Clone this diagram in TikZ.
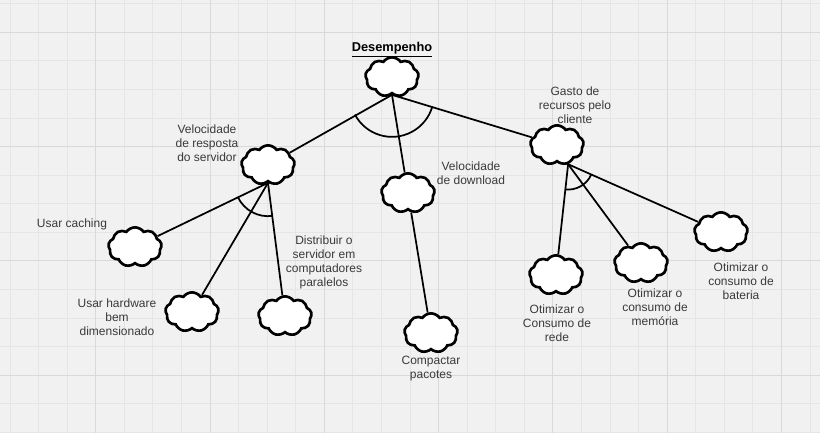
\documentclass[tikz,border=0pt]{standalone}
\usepackage{fontspec}
\setmainfont{Liberation Sans}
\usetikzlibrary{shapes.symbols}
\definecolor{PaperGray}{HTML}{F1F1F1}
\definecolor{GridMinor}{HTML}{E5E5E5}
\definecolor{GridMajor}{HTML}{D9D9D9}
\definecolor{LabelGray}{HTML}{3A3A3A}

\tikzset{
  goal/.style={cloud, cloud puffs=9, cloud puff arc=110, aspect=1.35,
    draw=black, line width=2pt, fill=white,
    minimum width=40pt, minimum height=29.5pt, inner sep=0pt},
  lbl/.style={text=LabelGray, align=center, font=\fontsize{9}{10.5}\selectfont},
  link/.style={line width=1.3pt, black},
}

\begin{document}
\begin{tikzpicture}[x=.75pt,y=-.75pt]
  % paper and grid
  \fill[PaperGray] (0,0) rectangle (820,433);
  \useasboundingbox (0,0) rectangle (820,433);
  \foreach \i in {0,...,28}
    \draw[GridMinor,line width=.6pt] ({10+28.57*\i},0) -- ({10+28.57*\i},433);
  \foreach \j in {0,...,15}
    \draw[GridMinor,line width=.6pt] (0,{3.7+28.57*\j}) -- (820,{3.7+28.57*\j});
  \foreach \i in {3,7,...,27}
    \draw[GridMajor,line width=.7pt] ({10+28.57*\i},0) -- ({10+28.57*\i},433);
  \foreach \j in {1,5,...,13}
    \draw[GridMajor,line width=.7pt] (0,{3.7+28.57*\j}) -- (820,{3.7+28.57*\j});

  % goals
  \node[goal] (des) at (392,77) {};
  \node[goal] (vrs) at (268,165) {};
  \node[goal] (dl) at (408,193) {};
  \node[goal] (gas) at (557,145) {};
  \node[goal] (uc) at (135,247) {};
  \node[goal] (uh) at (192,312) {};
  \node[goal] (ds) at (285,316) {};
  \node[goal] (cp) at (431,333) {};
  \node[goal] (rede) at (556,275) {};
  \node[goal] (mem) at (641,263) {};
  \node[goal] (bat) at (721,232) {};

  % labels
  \node[text=black,font=\fontsize{9.6}{11}\selectfont] (desL) at (392,50) {\underline{\textbf{Desempenho}}};
  \node[lbl] (vrsL) at (207,143) {Velocidade\\de resposta\\do servidor};
  \node[lbl] (dlL) at (471,173) {Velocidade\\de download};
  \node[lbl] (gasL) at (575,105) {Gasto de\\recursos pelo\\cliente};
  \node[lbl] (ucL) at (72,224) {Usar caching};
  \node[lbl] (uhL) at (117,317) {Usar hardware\\bem\\dimensionado};
  \node[lbl] (dsL) at (324,262) {Distribuir o\\servidor em\\computadores\\paralelos};
  \node[lbl] (cpL) at (431,369) {Compactar\\pacotes};
  \node[lbl] (redeL) at (557,323) {Otimizar o\\Consumo de\\rede};
  \node[lbl] (memL) at (655,307) {Otimizar o\\consumo de\\memória};
  \node[lbl] (batL) at (741,281) {Otimizar o\\consumo de\\bateria};

  % decomposition links
  \draw[link] (des.south) -- (vrs);
  \draw[link] (des.south) -- (dl);
  \draw[link] (des.south) -- (gas);
  \draw[link] (des.south) ++(208:31.5pt) arc[start angle=208, end angle=344, radius=31.5pt];

  \draw[link] (vrs.south) -- (uc);
  \draw[link] (vrs.south) -- (uh);
  \draw[link] (vrs.south) -- (ds);
  \draw[link] (vrs.south) ++(205:25pt) arc[start angle=205, end angle=278, radius=25pt];

  \draw[link] (dl) -- (cp);

  \draw[link] (gas.300) -- (rede);
  \draw[link] (gas.300) -- (mem);
  \draw[link] (gas.300) -- (bat);
  \draw[link] (gas.300) ++(263:19pt) arc[start angle=263, end angle=335, radius=19pt];
\end{tikzpicture}
\end{document}
